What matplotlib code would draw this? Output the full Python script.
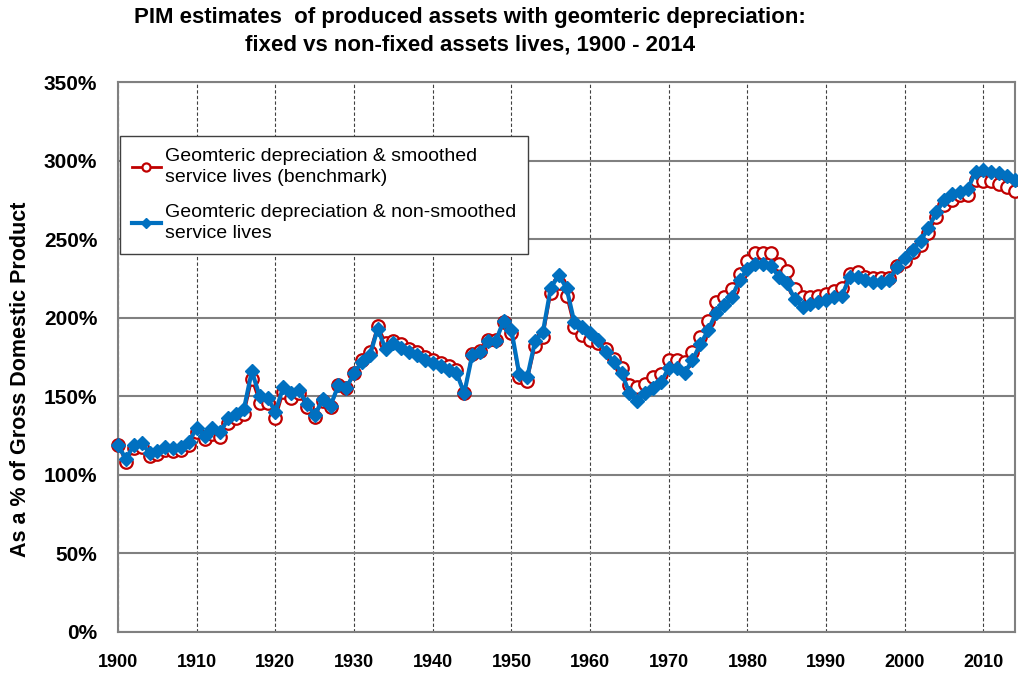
import matplotlib.pyplot as plt
import numpy as np

plt.rcParams['font.family'] = ['Liberation Sans', 'DejaVu Sans']

years = np.arange(1900, 2015)

# benchmark: geometric depreciation & smoothed service lives (% of GDP)
smoothed = [
    119, 108, 117, 118, 112, 113, 116, 115, 116, 119,
    127, 123, 126, 124, 133, 136, 139, 161, 146, 146,
    136, 153, 149, 152, 143, 137, 147, 143, 157, 155,
    165, 173, 178, 195, 184, 185, 183, 180, 178, 175,
    173, 171, 169, 167, 152, 177, 179, 186, 186, 197,
    190, 162, 160, 182, 188, 216, 222, 214, 194, 189,
    186, 184, 180, 174, 168, 157, 156, 158, 162, 164,
    173, 173, 172, 178, 188, 198, 210, 213, 218, 228,
    236, 241, 241, 241, 234, 230, 218, 213, 213, 214,
    215, 217, 219, 228, 229, 226, 225, 225, 225, 233,
    236, 242, 246, 254, 264, 272, 275, 278, 278, 288,
    287, 287, 285, 283, 281,
]

# geometric depreciation & non-smoothed service lives (% of GDP)
non_smoothed = [
    119, 110, 119, 120, 114, 115, 118, 117, 118, 121,
    130, 125, 130, 127, 136, 139, 142, 166, 150, 149,
    140, 156, 152, 154, 145, 138, 148, 144, 157, 155,
    165, 172, 176, 193, 180, 184, 181, 178, 176, 173,
    171, 169, 167, 165, 152, 176, 178, 185, 185, 198,
    192, 164, 162, 185, 191, 219, 227, 219, 197, 194,
    190, 186, 178, 172, 165, 152, 147, 152, 155, 159,
    168, 168, 165, 173, 183, 192, 203, 208, 213, 224,
    231, 234, 234, 233, 226, 222, 212, 207, 209, 210,
    211, 213, 214, 226, 226, 224, 223, 223, 224, 232,
    238, 243, 249, 257, 267, 275, 279, 280, 282, 293,
    294, 293, 292, 290, 288,
]

x_ticks = np.arange(1900, 2011, 10)
y_ticks = np.arange(0, 351, 50)

fig = plt.figure(figsize=(10.18, 6.73), dpi=100)
ax = fig.add_axes([0.116, 0.061, 0.881, 0.817])

ax.plot(years, smoothed, color='#C00000', linewidth=2, marker='o', markersize=9,
        markerfacecolor='white', markeredgecolor='#C00000', markeredgewidth=1.6,
        label='Geomteric depreciation & smoothed\nservice lives (benchmark)',
        zorder=3, clip_on=False)
ax.plot(years, non_smoothed, color='#0070C0', linewidth=3, marker='D', markersize=7.5,
        markerfacecolor='#0070C0', markeredgecolor='#0070C0',
        label='Geomteric depreciation & non-smoothed\nservice lives',
        zorder=4, clip_on=False)

ax.set_xlim(1900, 2014)
ax.set_ylim(0, 350)
ax.set_xticks(x_ticks)
ax.set_yticks(y_ticks)
ax.set_yticklabels([f'{v}%' for v in y_ticks])
for lab in ax.get_xticklabels():
    lab.set_fontweight('bold')
    lab.set_fontsize(13)
for lab in ax.get_yticklabels():
    lab.set_fontweight('bold')
    lab.set_fontsize(15)
ax.tick_params(axis='x', length=0, pad=16)
ax.tick_params(axis='y', length=0, pad=15)

# gridlines: solid horizontal, dashed vertical
ax.grid(axis='y', color='#808080', linewidth=1.5, linestyle='-', zorder=0)
ax.grid(axis='x', color='#404040', linewidth=0.8, linestyle=(0, (3, 2)), zorder=0)
ax.set_axisbelow(True)
for s in ax.spines.values():
    s.set_color('#808080')
    s.set_linewidth(1.5)

ax.set_ylabel('As a % of Gross Domestic Product', fontsize=15.5, fontweight='bold', labelpad=6)
ax.yaxis.set_label_coords(-0.097, 0.46)

fig.text(0.462, 0.99, 'PIM estimates  of produced assets with geomteric depreciation:\n'
         'fixed vs non-fixed assets lives, 1900 - 2014',
         ha='center', va='top', fontsize=16, fontweight='bold', linespacing=1.45)

leg = ax.legend(loc='upper left', bbox_to_anchor=(0.002, 0.902), fontsize=14,
                frameon=True, fancybox=False, edgecolor='#404040', framealpha=1,
                handlelength=1.5, handletextpad=0.2, borderpad=0.6, labelspacing=0.9,
                borderaxespad=0, markerscale=0.65)
leg.get_frame().set_linewidth(1.0)
for t in leg.get_texts():
    t.set_linespacing(1.35)

fig.savefig('out.png', dpi=100)
